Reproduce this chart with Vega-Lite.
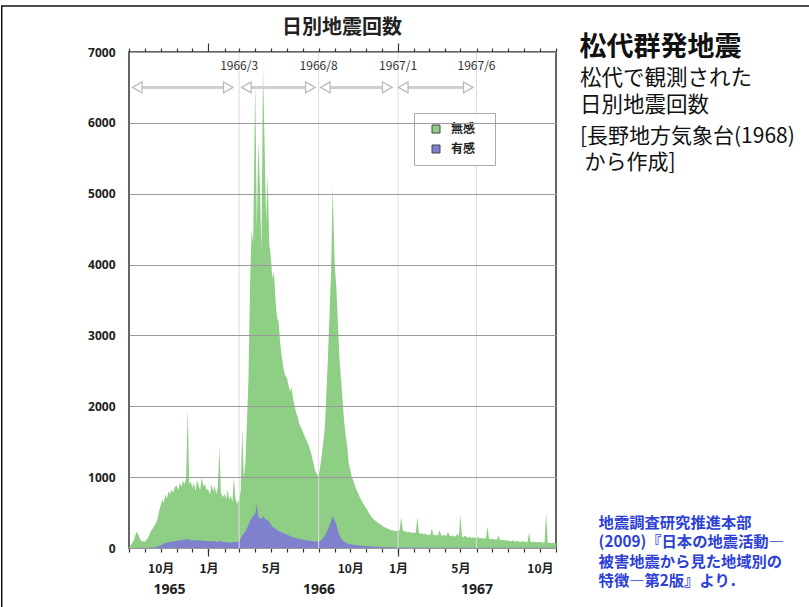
{
"$schema": "https://vega.github.io/schema/vega-lite/v6.json",
"width": 427, "height": 496,
"autosize": {"type": "none"},
"padding": {"left": 129, "top": 52, "right": 253, "bottom": 59},
"background": "white",
"config": {"view": {"stroke": "#333", "strokeWidth": 1.5}, "font": "Noto Sans CJK JP"},
"datasets": {
"eq": [
{"d":"1965/08/01","t":10,"f":0},{"d":"1965/08/04","t":40,"f":0},{"d":"1965/08/07","t":70,"f":1},{"d":"1965/08/10","t":110,"f":1},{"d":"1965/08/13","t":180,"f":2},{"d":"1965/08/16","t":230,"f":3},{"d":"1965/08/19","t":190,"f":2},{"d":"1965/08/22","t":130,"f":2},{"d":"1965/08/25","t":100,"f":2},{"d":"1965/08/28","t":90,"f":2},
{"d":"1965/09/01","t":90,"f":2},{"d":"1965/09/04","t":120,"f":3},{"d":"1965/09/07","t":150,"f":4},{"d":"1965/09/10","t":200,"f":5},{"d":"1965/09/13","t":250,"f":6},{"d":"1965/09/16","t":280,"f":8},{"d":"1965/09/19","t":320,"f":10},{"d":"1965/09/22","t":350,"f":15},{"d":"1965/09/25","t":420,"f":20},{"d":"1965/09/28","t":520,"f":30},
{"d":"1965/10/01","t":600,"f":40},{"d":"1965/10/04","t":680,"f":50},{"d":"1965/10/07","t":640,"f":60},{"d":"1965/10/10","t":750,"f":70},{"d":"1965/10/13","t":700,"f":75},{"d":"1965/10/16","t":800,"f":80},{"d":"1965/10/19","t":760,"f":90},{"d":"1965/10/22","t":830,"f":85},{"d":"1965/10/25","t":780,"f":95},{"d":"1965/10/28","t":860,"f":100},
{"d":"1965/11/01","t":880,"f":100},{"d":"1965/11/04","t":820,"f":110},{"d":"1965/11/07","t":920,"f":105},{"d":"1965/11/10","t":860,"f":120},{"d":"1965/11/13","t":950,"f":110},{"d":"1965/11/16","t":900,"f":115},{"d":"1965/11/19","t":980,"f":120},{"d":"1965/11/22","t":1975,"f":130},{"d":"1965/11/25","t":900,"f":115},{"d":"1965/11/28","t":940,"f":110},
{"d":"1965/12/01","t":850,"f":110},{"d":"1965/12/04","t":920,"f":105},{"d":"1965/12/07","t":800,"f":115},{"d":"1965/12/10","t":960,"f":100},{"d":"1965/12/13","t":880,"f":110},{"d":"1965/12/16","t":820,"f":105},{"d":"1965/12/19","t":1000,"f":100},{"d":"1965/12/22","t":870,"f":110},{"d":"1965/12/25","t":900,"f":95},{"d":"1965/12/28","t":830,"f":100},
{"d":"1966/01/01","t":820,"f":100},{"d":"1966/01/04","t":760,"f":95},{"d":"1966/01/07","t":900,"f":90},{"d":"1966/01/10","t":800,"f":100},{"d":"1966/01/13","t":880,"f":95},{"d":"1966/01/16","t":760,"f":90},{"d":"1966/01/19","t":850,"f":85},{"d":"1966/01/22","t":1425,"f":110},{"d":"1966/01/25","t":780,"f":90},{"d":"1966/01/28","t":720,"f":85},
{"d":"1966/02/01","t":760,"f":85},{"d":"1966/02/04","t":700,"f":80},{"d":"1966/02/07","t":820,"f":85},{"d":"1966/02/10","t":680,"f":80},{"d":"1966/02/13","t":740,"f":75},{"d":"1966/02/16","t":650,"f":80},{"d":"1966/02/19","t":1000,"f":90},{"d":"1966/02/22","t":700,"f":80},{"d":"1966/02/25","t":620,"f":85},{"d":"1966/02/28","t":680,"f":90},
{"d":"1966/03/01","t":650,"f":100},{"d":"1966/03/04","t":820,"f":130},{"d":"1966/03/07","t":1700,"f":180},{"d":"1966/03/10","t":1000,"f":200},{"d":"1966/03/13","t":1200,"f":230},{"d":"1966/03/16","t":1760,"f":280},{"d":"1966/03/19","t":2400,"f":320},{"d":"1966/03/22","t":3700,"f":380},{"d":"1966/03/25","t":4500,"f":420},{"d":"1966/03/28","t":4300,"f":450},
{"d":"1966/04/01","t":6600,"f":480},{"d":"1966/04/04","t":4500,"f":620},{"d":"1966/04/07","t":5750,"f":440},{"d":"1966/04/10","t":5100,"f":420},{"d":"1966/04/13","t":4200,"f":410},{"d":"1966/04/16","t":6780,"f":450},{"d":"1966/04/19","t":5700,"f":420},{"d":"1966/04/22","t":4600,"f":400},{"d":"1966/04/25","t":5260,"f":390},{"d":"1966/04/28","t":4300,"f":370},
{"d":"1966/05/01","t":4100,"f":340},{"d":"1966/05/04","t":3800,"f":300},{"d":"1966/05/07","t":3900,"f":290},{"d":"1966/05/10","t":3500,"f":270},{"d":"1966/05/13","t":3250,"f":250},{"d":"1966/05/16","t":3200,"f":240},{"d":"1966/05/19","t":2900,"f":230},{"d":"1966/05/22","t":2700,"f":220},{"d":"1966/05/25","t":2550,"f":210},{"d":"1966/05/28","t":2450,"f":200},
{"d":"1966/06/01","t":2400,"f":190},{"d":"1966/06/04","t":2300,"f":180},{"d":"1966/06/07","t":2200,"f":170},{"d":"1966/06/10","t":2270,"f":160},{"d":"1966/06/13","t":2100,"f":150},{"d":"1966/06/16","t":2000,"f":145},{"d":"1966/06/19","t":1900,"f":140},{"d":"1966/06/22","t":1850,"f":135},{"d":"1966/06/25","t":1750,"f":130},{"d":"1966/06/28","t":1700,"f":125},
{"d":"1966/07/01","t":1650,"f":120},{"d":"1966/07/04","t":1600,"f":115},{"d":"1966/07/07","t":1550,"f":110},{"d":"1966/07/10","t":1500,"f":110},{"d":"1966/07/13","t":1450,"f":105},{"d":"1966/07/16","t":1380,"f":100},{"d":"1966/07/19","t":1300,"f":100},{"d":"1966/07/22","t":1200,"f":95},{"d":"1966/07/25","t":1100,"f":90},{"d":"1966/07/28","t":1050,"f":90},
{"d":"1966/08/01","t":1000,"f":90},{"d":"1966/08/04","t":1150,"f":100},{"d":"1966/08/07","t":1300,"f":120},{"d":"1966/08/10","t":1500,"f":150},{"d":"1966/08/13","t":1700,"f":170},{"d":"1966/08/16","t":2200,"f":220},{"d":"1966/08/19","t":2700,"f":260},{"d":"1966/08/22","t":3300,"f":320},{"d":"1966/08/25","t":3900,"f":380},{"d":"1966/08/28","t":5080,"f":450},
{"d":"1966/09/01","t":4000,"f":380},{"d":"1966/09/04","t":3700,"f":340},{"d":"1966/09/07","t":3200,"f":250},{"d":"1966/09/10","t":2700,"f":180},{"d":"1966/09/13","t":2400,"f":140},{"d":"1966/09/16","t":2100,"f":110},{"d":"1966/09/19","t":1800,"f":90},{"d":"1966/09/22","t":1600,"f":75},{"d":"1966/09/25","t":1450,"f":65},{"d":"1966/09/28","t":1200,"f":58},
{"d":"1966/10/01","t":1100,"f":55},{"d":"1966/10/04","t":1000,"f":50},{"d":"1966/10/07","t":950,"f":45},{"d":"1966/10/10","t":880,"f":42},{"d":"1966/10/13","t":820,"f":40},{"d":"1966/10/16","t":780,"f":38},{"d":"1966/10/19","t":720,"f":35},{"d":"1966/10/22","t":680,"f":33},{"d":"1966/10/25","t":640,"f":30},{"d":"1966/10/28","t":600,"f":28},
{"d":"1966/11/01","t":560,"f":27},{"d":"1966/11/04","t":520,"f":25},{"d":"1966/11/07","t":480,"f":23},{"d":"1966/11/10","t":450,"f":22},{"d":"1966/11/13","t":420,"f":20},{"d":"1966/11/16","t":400,"f":19},{"d":"1966/11/19","t":380,"f":18},{"d":"1966/11/22","t":360,"f":17},{"d":"1966/11/25","t":350,"f":16},{"d":"1966/11/28","t":330,"f":15},
{"d":"1966/12/01","t":320,"f":14},{"d":"1966/12/04","t":300,"f":13},{"d":"1966/12/07","t":290,"f":12},{"d":"1966/12/10","t":280,"f":12},{"d":"1966/12/13","t":270,"f":11},{"d":"1966/12/16","t":260,"f":10},{"d":"1966/12/19","t":250,"f":10},{"d":"1966/12/22","t":250,"f":9},{"d":"1966/12/25","t":240,"f":9},{"d":"1966/12/28","t":240,"f":8},
{"d":"1967/01/01","t":240,"f":8},{"d":"1967/01/04","t":250,"f":8},{"d":"1967/01/07","t":440,"f":10},{"d":"1967/01/10","t":250,"f":7},{"d":"1967/01/13","t":230,"f":7},{"d":"1967/01/16","t":240,"f":7},{"d":"1967/01/19","t":220,"f":6},{"d":"1967/01/22","t":230,"f":6},{"d":"1967/01/25","t":220,"f":6},{"d":"1967/01/28","t":210,"f":6},
{"d":"1967/02/01","t":220,"f":6},{"d":"1967/02/04","t":210,"f":6},{"d":"1967/02/07","t":440,"f":8},{"d":"1967/02/10","t":210,"f":5},{"d":"1967/02/13","t":200,"f":5},{"d":"1967/02/16","t":210,"f":5},{"d":"1967/02/19","t":190,"f":5},{"d":"1967/02/22","t":200,"f":5},{"d":"1967/02/25","t":190,"f":5},{"d":"1967/02/28","t":185,"f":5},
{"d":"1967/03/01","t":190,"f":5},{"d":"1967/03/04","t":185,"f":5},{"d":"1967/03/07","t":280,"f":6},{"d":"1967/03/10","t":180,"f":4},{"d":"1967/03/13","t":190,"f":4},{"d":"1967/03/16","t":175,"f":4},{"d":"1967/03/19","t":185,"f":4},{"d":"1967/03/22","t":250,"f":5},{"d":"1967/03/25","t":180,"f":4},{"d":"1967/03/28","t":175,"f":4},
{"d":"1967/04/01","t":185,"f":4},{"d":"1967/04/04","t":170,"f":4},{"d":"1967/04/07","t":230,"f":4},{"d":"1967/04/10","t":175,"f":4},{"d":"1967/04/13","t":165,"f":3},{"d":"1967/04/16","t":180,"f":3},{"d":"1967/04/19","t":160,"f":3},{"d":"1967/04/22","t":170,"f":3},{"d":"1967/04/25","t":200,"f":3},{"d":"1967/04/28","t":165,"f":3},
{"d":"1967/05/01","t":465,"f":5},{"d":"1967/05/04","t":160,"f":3},{"d":"1967/05/07","t":150,"f":3},{"d":"1967/05/10","t":180,"f":3},{"d":"1967/05/13","t":150,"f":3},{"d":"1967/05/16","t":145,"f":3},{"d":"1967/05/19","t":160,"f":3},{"d":"1967/05/22","t":140,"f":3},{"d":"1967/05/25","t":150,"f":3},{"d":"1967/05/28","t":145,"f":3},
{"d":"1967/06/01","t":140,"f":3},{"d":"1967/06/04","t":150,"f":3},{"d":"1967/06/07","t":135,"f":2},{"d":"1967/06/10","t":145,"f":2},{"d":"1967/06/13","t":130,"f":2},{"d":"1967/06/16","t":140,"f":2},{"d":"1967/06/19","t":135,"f":2},{"d":"1967/06/22","t":300,"f":4},{"d":"1967/06/25","t":130,"f":2},{"d":"1967/06/28","t":125,"f":2},
{"d":"1967/07/01","t":130,"f":2},{"d":"1967/07/04","t":120,"f":2},{"d":"1967/07/07","t":125,"f":2},{"d":"1967/07/10","t":115,"f":2},{"d":"1967/07/13","t":180,"f":3},{"d":"1967/07/16","t":120,"f":2},{"d":"1967/07/19","t":110,"f":2},{"d":"1967/07/22","t":115,"f":2},{"d":"1967/07/25","t":105,"f":2},{"d":"1967/07/28","t":110,"f":2},
{"d":"1967/08/01","t":105,"f":2},{"d":"1967/08/04","t":100,"f":2},{"d":"1967/08/07","t":95,"f":2},{"d":"1967/08/10","t":110,"f":2},{"d":"1967/08/13","t":90,"f":2},{"d":"1967/08/16","t":95,"f":2},{"d":"1967/08/19","t":100,"f":2},{"d":"1967/08/22","t":90,"f":2},{"d":"1967/08/25","t":85,"f":2},{"d":"1967/08/28","t":95,"f":2},
{"d":"1967/09/01","t":90,"f":2},{"d":"1967/09/04","t":85,"f":2},{"d":"1967/09/07","t":80,"f":2},{"d":"1967/09/10","t":210,"f":3},{"d":"1967/09/13","t":85,"f":2},{"d":"1967/09/16","t":80,"f":2},{"d":"1967/09/19","t":90,"f":2},{"d":"1967/09/22","t":85,"f":2},{"d":"1967/09/25","t":80,"f":2},{"d":"1967/09/28","t":85,"f":2},
{"d":"1967/10/01","t":80,"f":2},{"d":"1967/10/04","t":85,"f":2},{"d":"1967/10/07","t":75,"f":2},{"d":"1967/10/10","t":80,"f":2},{"d":"1967/10/13","t":500,"f":4},{"d":"1967/10/16","t":80,"f":2},{"d":"1967/10/19","t":75,"f":2},{"d":"1967/10/22","t":70,"f":2},{"d":"1967/10/25","t":75,"f":2},{"d":"1967/10/28","t":70,"f":2},
{"d":"1967/11/01","t":70,"f":2}
],
"periods": [
{"d":"1966/03/01","lab":"1966/3"},{"d":"1966/08/01","lab":"1966/8"},{"d":"1967/01/01","lab":"1967/1"},{"d":"1967/06/01","lab":"1967/6"}
],
"arrows": [
{"s":"1965/08/17","e":"1966/02/08"},{"s":"1966/03/15","e":"1966/07/16"},{"s":"1966/08/14","e":"1966/12/11"},{"s":"1967/01/11","e":"1967/05/16"}
]
},
"resolve": {"axis": {"x": "independent"}},
"layer": [
{
"data": {"values": [{}]},
"mark": {"type": "rect", "fillOpacity": 0, "stroke": "#111", "strokeWidth": 1.5},
"encoding": {
"x": {"datum": {"year": 1964, "month": 11, "date": 29}, "type": "temporal", "axis": null},
"x2": {"datum": {"year": 1969, "month": 6, "date": 1}},
"y": {"datum": 7650, "type": "quantitative", "title": null},
"y2": {"datum": -1500}
}
},
{
"data": {"name": "eq"},
"mark": {"type": "area", "color": "#92d08a", "opacity": 1, "interpolate": "linear"},
"encoding": {
"x": {"field": "d", "type": "temporal",
"scale": {"domain": [{"year": 1965, "month": 8, "date": 1}, {"year": 1967, "month": 11, "date": 1}]},
"axis": {"orient": "bottom", "title": null, "domain": false, "grid": false, "tickCount": {"interval": "month", "step": 1},
"labelExpr": "month(datum.value)==0 ? '1月' : month(datum.value)==4 ? '5月' : month(datum.value)==9 ? '10月' : ''",
"labelOverlap": false, "labelFlush": false, "labelFont": "Noto Sans CJK JP", "labelFontWeight": "bold", "labelFontSize": 12, "labelColor": "#222",
"tickColor": "#333", "tickWidth": 1.2, "tickSize": 4, "labelPadding": 11}},
"y": {"field": "t", "type": "quantitative", "stack": null, "title": null, "scale": {"domain": [0, 7000], "nice": false},
"axis": {"title": null, "values": [0, 1000, 2000, 3000, 4000, 5000, 6000, 7000], "format": "d", "domain": false, "ticks": false, "labelPadding": 14, "grid": true, "gridColor": "#9a9a9a", "gridWidth": 1.2, "zindex": 1,
"labelFont": "Open Sans", "labelFontWeight": "bold", "labelFontSize": 12, "labelColor": "#222"}},
"color": {"datum": "無感", "scale": {"domain": ["無感", "有感"], "range": ["#8fcf85", "#7f81cf"]},
"legend": {"orient": "none", "legendX": 285, "legendY": 61, "title": null, "direction": "vertical", "symbolType": "square", "symbolSize": 64,
"symbolStrokeColor": "#444", "symbolStrokeWidth": 1, "symbolOpacity": 1, "labelFont": "Noto Sans CJK JP", "labelFontSize": 12, "labelFontWeight": "bold", "labelColor": "#222",
"padding": 10, "strokeColor": "#aaa", "fillColor": "white", "rowPadding": 8, "symbolOffset": 6, "labelOffset": 9, "labelExpr": "datum.label + '\u2800'"}}
}
},
{
"data": {"name": "eq"},
"mark": {"type": "area", "color": "#7f81cf", "opacity": 1, "interpolate": "linear"},
"encoding": {
"x": {"field": "d", "type": "temporal",
"axis": {"orient": "bottom", "title": null, "labels": false, "domain": false, "grid": false,
"values": [{"year": 1966, "month": 1, "date": 1}, {"year": 1967, "month": 1, "date": 1}], "tickColor": "#333", "tickWidth": 1.2, "tickSize": 8}},
"y": {"field": "f", "type": "quantitative", "stack": null, "title": null},
"color": {"datum": "有感"}
}
},
{
"data": {"name": "periods"},
"mark": {"type": "rule", "color": "#dcdcdc", "strokeWidth": 1},
"encoding": {
"x": {"field": "d", "type": "temporal",
"axis": {"orient": "top", "title": null, "labels": false, "domain": false, "grid": false, "tickCount": {"interval": "month", "step": 1},
"tickColor": "#333", "tickWidth": 1.2, "tickSize": {"condition": {"test": "month(datum.value)==0", "value": 9}, "value": 4}}}
}
},
{
"data": {"name": "periods"},
"mark": {"type": "text", "fontSize": 12, "color": "#333", "align": "center", "baseline": "middle"},
"encoding": {
"x": {"field": "d", "type": "temporal", "axis": null},
"y": {"datum": 6800, "type": "quantitative", "title": null},
"text": {"field": "lab"}
}
},
{
"data": {"name": "arrows"},
"mark": {"type": "rule", "color": "#cfcfcf", "strokeWidth": 3},
"encoding": {
"x": {"field": "s", "type": "temporal",
"axis": {"orient": "bottom", "title": null, "values": [{"year": 1965, "month": 10, "date": 17}, {"year": 1966, "month": 8, "date": 1}, {"year": 1967, "month": 6, "date": 1}],
"labelExpr": "timeFormat(datum.value, '%Y')", "ticks": false, "domain": false, "grid": false, "labelPadding": 34,
"labelFont": "Open Sans", "labelFontWeight": "bold", "labelFontSize": 14, "labelColor": "#222", "labelFlush": false, "labelOverlap": false}},
"x2": {"field": "e"},
"y": {"datum": 6500, "type": "quantitative", "title": null}
}
},
{
"data": {"name": "arrows"},
"mark": {"type": "point", "shape": "triangle-left", "filled": true, "fill": "white", "stroke": "#bdbdbd", "strokeWidth": 1.3, "size": 120, "opacity": 1},
"encoding": {
"x": {"field": "s", "type": "temporal", "axis": null},
"y": {"datum": 6500, "type": "quantitative", "title": null}
}
},
{
"data": {"name": "arrows"},
"mark": {"type": "point", "shape": "triangle-right", "filled": true, "fill": "white", "stroke": "#bdbdbd", "strokeWidth": 1.3, "size": 120, "opacity": 1},
"encoding": {
"x": {"field": "e", "type": "temporal", "axis": null},
"y": {"datum": 6500, "type": "quantitative", "title": null}
}
},
{
"data": {"values": [{}]},
"mark": {"type": "text", "font": "Noto Sans CJK JP", "fontSize": 20, "fontWeight": "bold", "color": "#222", "align": "center", "baseline": "middle"},
"encoding": {
"x": {"datum": {"year": 1966, "month": 9, "date": 15}, "type": "temporal", "axis": null},
"y": {"datum": 7338, "type": "quantitative", "title": null},
"text": {"value": "日別地震回数"}
}
},
{
"data": {"values": [{}]},
"mark": {"type": "text", "font": "Noto Sans CJK JP", "fontSize": 27, "fontWeight": "bold", "color": "#111", "align": "left", "baseline": "middle"},
"encoding": {
"x": {"datum": {"year": 1967, "month": 12, "date": 16}, "type": "temporal", "axis": null},
"y": {"datum": 7056, "type": "quantitative", "title": null},
"text": {"value": "松代群発地震"}
}
},
{
"data": {"values": [{}]},
"mark": {"type": "text", "font": "Noto Sans CJK JP", "fontSize": 21.5, "color": "#111", "align": "left", "baseline": "top", "lineHeight": 27},
"encoding": {
"x": {"datum": {"year": 1967, "month": 12, "date": 17}, "type": "temporal", "axis": null},
"y": {"datum": 6770, "type": "quantitative", "title": null},
"text": {"value": ["松代で観測された", "日別地震回数"]}
}
},
{
"data": {"values": [{}]},
"mark": {"type": "text", "font": "Noto Sans CJK JP", "fontSize": 21, "color": "#111", "align": "left", "baseline": "top"},
"encoding": {
"x": {"datum": {"year": 1967, "month": 12, "date": 17}, "type": "temporal", "axis": null},
"y": {"datum": 5960, "type": "quantitative", "title": null},
"text": {"value": "[長野地方気象台(1968)"}
}
},
{
"data": {"values": [{}]},
"mark": {"type": "text", "font": "Noto Sans CJK JP", "fontSize": 21, "color": "#111", "align": "left", "baseline": "top"},
"encoding": {
"x": {"datum": {"year": 1967, "month": 12, "date": 26}, "type": "temporal", "axis": null},
"y": {"datum": 5595, "type": "quantitative", "title": null},
"text": {"value": "から作成]"}
}
},
{
"data": {"values": [{}]},
"mark": {"type": "text", "font": "Noto Sans CJK JP", "fontSize": 15.3, "fontWeight": "bold", "color": "#2c3fd6", "align": "left", "baseline": "top", "lineHeight": 19.5},
"encoding": {
"x": {"datum": {"year": 1968, "month": 1, "date": 22}, "type": "temporal", "axis": null},
"y": {"datum": 455, "type": "quantitative", "title": null},
"text": {"value": ["地震調査研究推進本部", "(2009)『日本の地震活動―", "被害地震から見た地域別の", "特徴―第2版』より．"]}
}
}
]
}
